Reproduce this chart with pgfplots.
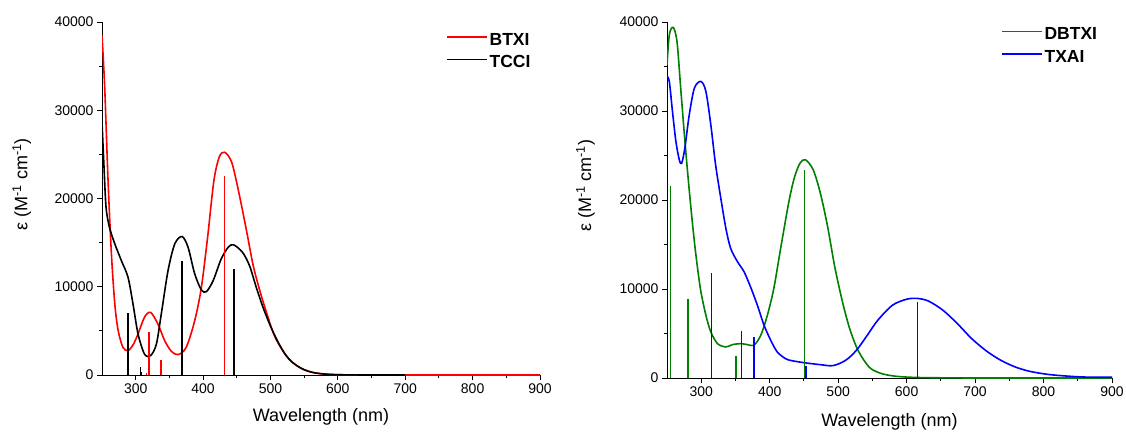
\documentclass[border=0pt]{standalone}
\usepackage{fontspec}
\setmainfont{Liberation Sans}
\usepackage{pgfplots}
\pgfplotsset{compat=1.18}
\definecolor{ogreen}{RGB}{0,128,0}
\pgfplotsset{
  myaxis/.style={
    scale only axis,
    xmin=250, xmax=900, ymin=0, ymax=40000,
    axis lines*=left,
    axis line style={line width=0.9pt, black},
    every tick/.style={line width=0.9pt, black},
    tick align=outside,
    major tick length=5pt, minor tick length=3pt,
    xtick={300,400,...,900}, minor x tick num=1,
    ytick={0,10000,...,40000}, minor y tick num=1,
    scaled y ticks=false,
    /pgf/number format/assume math mode=true,
    yticklabel style={/pgf/number format/fixed, /pgf/number format/1000 sep={}},
    xticklabel style={/pgf/number format/1000 sep={}},
    tick label style={font=\fontsize{14}{16}\selectfont, black},
    xlabel={Wavelength (nm)},
    ylabel={ε (M\textsuperscript{-1} cm\textsuperscript{-1})},
    every axis y label/.style={at={(axis description cs:-0.183,0.54)}, rotate=90, anchor=center, font=\fontsize{18}{21}\selectfont},
    legend style={draw=none, fill=none, anchor=north west, inner sep=0pt,
      font=\bfseries\fontsize{17.5}{20}\selectfont, row sep=5pt},
    legend cell align=left,
    legend image code/.code={\draw[#1] (0pt,3pt) -- (40pt,3pt);},
    clip=true,
  },
  curve/.style={smooth, line width=1.6pt, no markers},
  stick/.style={ycomb, line width=1.6pt, no markers, forget plot},
}
\begin{document}
\begin{tikzpicture}
\useasboundingbox (0,0) rectangle (1126pt,434pt);
% ---------------- left panel ----------------
\begin{axis}[myaxis,
  at={(102pt,59pt)}, anchor=south west, width=438pt, height=353pt,
  every axis x label/.style={at={(axis description cs:0.5,-0.118)}, anchor=center, font=\fontsize{18}{21}\selectfont},
  legend style={at={(axis description cs:0.785,0.975)}},
]
\addplot[curve, red] coordinates {
(250,38500) (254,32600) (259,22000) (264,13700) (269,8050) (274,5030) (281,3140)
(288.6,2760) (296,3400) (303.5,4650) (313,6540) (322,7100) (333,5780) (343,3890)
(353,2680) (363,2310) (375,3140) (387.6,6160) (397.5,9940) (407,15800) (416,22000)
(424,24700) (432,25240) (442.5,24100) (453,20700) (464,16530) (474.5,12370)
(485,9350) (495.7,6700) (506,4430) (517,2900) (527.7,1780) (543.6,830) (559.6,340)
(575.5,130) (600,30) (650,5) (700,0) (800,0) (900,0)
};
\addlegendentry{BTXI}
\addplot[curve, black] coordinates {
(250,28660) (253,23550) (256,19020) (261,16750) (269,14860) (278.7,12970)
(288.6,11080) (296,8050) (303.5,4650) (313,2380) (322,2190) (330.7,3500)
(338,6920) (348,11830) (358,14860) (368.8,15690) (377.7,14480) (387.6,11460)
(397.5,9640) (405,9450) (415,10700) (426.6,13100) (437,14450) (445,14760)
(458.5,13900) (469,12370) (479.8,9720) (490,7450) (501,5370) (511.7,3670)
(522,2350) (533,1400) (549,640) (565,260) (586,80) (620,10) (700,0)
};
\addlegendentry{TCCI}
\addplot[stick, red] coordinates {(316,200) (320,4840) (337.6,1700) (431.5,22600)};
\addplot[stick, black] coordinates {(288.6,7000) (307,950) (308.4,300) (368.8,12970) (446,12000)};
\end{axis}
% ---------------- right panel ----------------
\begin{axis}[myaxis,
  at={(667pt,56pt)}, anchor=south west, width=445pt, height=356pt,
  every axis x label/.style={at={(axis description cs:0.5,-0.122)}, anchor=center, font=\fontsize{18}{21}\selectfont},
  legend style={at={(axis description cs:0.75,0.99)}},
]
\addplot[curve, ogreen] coordinates {
(250,35200) (253.4,38570) (259,39400) (264.6,37800) (270,32570) (275,27700)
(280,23200) (285,19060) (290,15300) (294.7,12300) (299.5,9700) (306.8,7050)
(314,5180) (323.8,3860) (336,3490) (345.6,3750) (357.8,3860) (367.5,3750)
(377,3680) (387,4800) (396.6,7050) (406,10060) (416,14560) (428,19800)
(436,22500) (444,24100) (452,24530) (463.5,23400) (474,20770) (484.6,17010)
(495,12510) (505.7,8750) (516,5750) (526.7,3490) (537,2070) (547.8,1050)
(563.7,490) (585,190) (620,50) (700,0) (800,0) (900,0)
};
\addlegendentry{DBTXI}
\addplot[curve, blue] coordinates {
(250,33900) (253.4,33300) (258,29940) (263,26570) (268,24500) (271.4,24130)
(276,25800) (282.5,29570) (290,32570) (299.5,33320) (306.8,32200) (314,28440)
(321,23940) (328.6,20190) (336,16810) (343,14560) (353,13060) (362.6,11930)
(372,10240) (382,8180) (391.7,5930) (401.5,4240) (411,2930) (423,2180)
(432,1950) (453,1690) (474,1500) (492.5,1390) (511,1990) (526.7,3120)
(542.6,4810) (558,6500) (579.5,8190) (600.5,8860) (616,8940) (632,8640)
(653,7620) (674,6120) (695,4430) (716.5,3040) (737.6,1990) (758.7,1240)
(779.8,750) (806,410) (832.5,225) (859,110) (900,80)
};
\addlegendentry{TXAI}
\addplot[stick, ogreen] coordinates {(254.9,21610) (281,8860) (351,2440) (450.8,23400)};
\addplot[stick, blue] coordinates {(315,11750) (358.7,5250) (376.7,4620) (453,1350) (616,8490)};
\end{axis}
\end{tikzpicture}
\end{document}
